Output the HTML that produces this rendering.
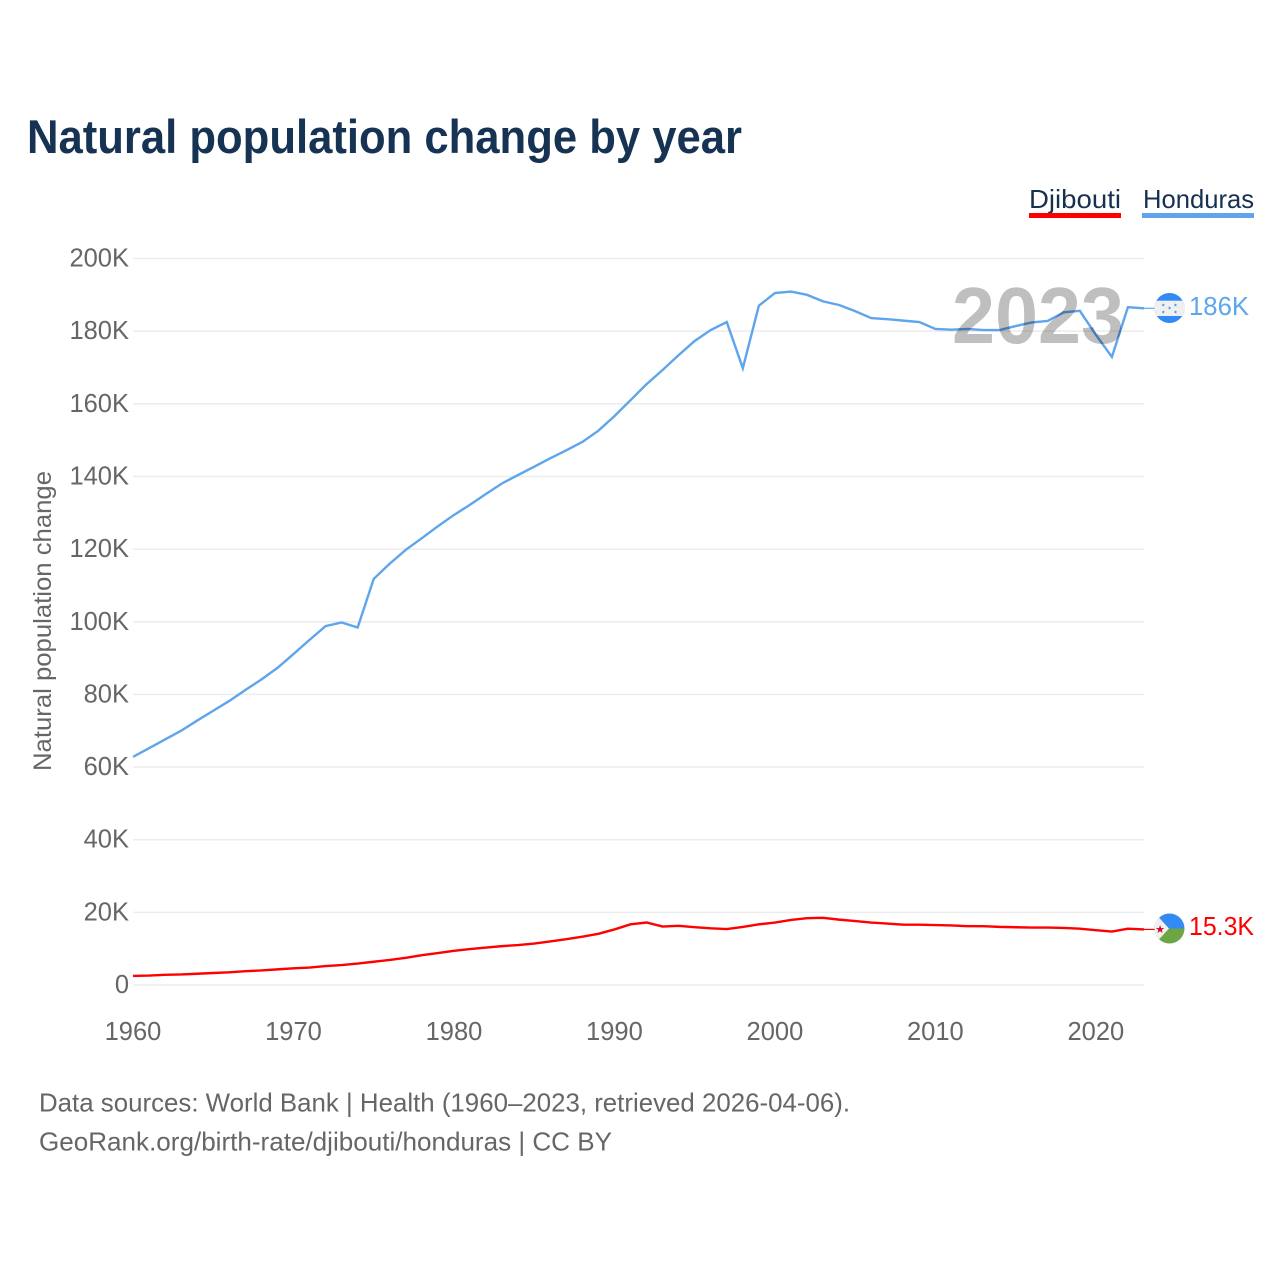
<!DOCTYPE html>
<html lang="en">
<head>
<meta charset="utf-8">
<title>Natural population change by year</title>
<style>
html,body{margin:0;padding:0;background:#fff;}
svg{display:block;font-family:"Liberation Sans",sans-serif;}
</style>
</head>
<body>
<svg id="chart" width="1280" height="1280" viewBox="0 0 1280 1280" xmlns="http://www.w3.org/2000/svg">
  <rect width="1280" height="1280" fill="#fff"/>
  <text x="27" y="153" font-size="47" font-weight="700" fill="#163354" textLength="715" lengthAdjust="spacingAndGlyphs">Natural population change by year</text>

  <g>
    <text x="1029" y="208" font-size="26" fill="#18304f" textLength="92" lengthAdjust="spacingAndGlyphs">Djibouti</text>
    <rect x="1029" y="213" width="92" height="5" fill="#ff0000"/>
  </g>
  <g>
    <text x="1143" y="208" font-size="26" fill="#18304f" textLength="111" lengthAdjust="spacingAndGlyphs">Honduras</text>
    <rect x="1142" y="213" width="112" height="5" fill="#5ea5ec"/>
  </g>

  <g id="grid"></g>
  <g id="yticks"></g>
  <g id="xticks"></g>
  <text transform="translate(51,621) rotate(-90)" text-anchor="middle" font-size="25" fill="#666" textLength="300" lengthAdjust="spacingAndGlyphs">Natural population change</text>

  <g id="series"></g>

  <text id="year-label" x="952" y="343" font-size="80" font-weight="700" fill="#000" fill-opacity="0.25" textLength="172" lengthAdjust="spacingAndGlyphs">2023</text>

  <g id="flag-hn">
    <clipPath id="clip-hn"><circle cx="1169.5" cy="308" r="15"/></clipPath>
    <g clip-path="url(#clip-hn)">
      <rect x="1154" y="293" width="31" height="31" fill="#338af3"/>
      <rect x="1154" y="300.700" width="31" height="15.300" fill="#f0f0f0"/>
      <g fill="#338af3" font-size="4.500" text-anchor="middle">
        <text x="1163.300" y="306.500">★</text><text x="1175.500" y="306.500">★</text>
        <text x="1169.500" y="309.500">★</text>
        <text x="1163.300" y="313.500">★</text><text x="1175.500" y="313.500">★</text>
      </g>
    </g>
  </g>
  <g id="flag-dj">
    <clipPath id="clip-dj"><circle cx="1169.5" cy="928.500" r="15"/></clipPath>
    <g clip-path="url(#clip-dj)">
      <rect x="1154" y="913" width="31" height="16" fill="#338af3"/>
      <rect x="1154" y="928.500" width="31" height="16" fill="#6da544"/>
      <polygon points="1152,910 1169,928.500 1152,947" fill="#f0f0f0"/>
      <text x="1160" y="933" font-size="11" text-anchor="middle" fill="#d80027">★</text>
    </g>
  </g>
  <text id="end-hn" x="1189" y="315" font-size="25.500" fill="#5ea5ec" textLength="60" lengthAdjust="spacingAndGlyphs">186K</text>
  <text id="end-dj" x="1189" y="935" font-size="25.500" fill="#ff0000" textLength="65" lengthAdjust="spacingAndGlyphs">15.3K</text>

  <g>
    <text x="39" y="1111.500" font-size="26" fill="#666" textLength="811" lengthAdjust="spacingAndGlyphs">Data sources: World Bank | Health (1960–2023, retrieved 2026-04-06).</text>
    <text x="39" y="1150.500" font-size="26" fill="#666" textLength="573" lengthAdjust="spacingAndGlyphs">GeoRank.org/birth-rate/djibouti/honduras | CC BY</text>
  </g>
</svg>
<script>
const years = [1960,1961,1962,1963,1964,1965,1966,1967,1968,1969,1970,1971,1972,1973,1974,1975,1976,1977,1978,1979,1980,1981,1982,1983,1984,1985,1986,1987,1988,1989,1990,1991,1992,1993,1994,1995,1996,1997,1998,1999,2000,2001,2002,2003,2004,2005,2006,2007,2008,2009,2010,2011,2012,2013,2014,2015,2016,2017,2018,2019,2020,2021,2022,2023];
const honduras = [62.8,65.2,67.6,70,72.8,75.5,78.2,81.2,84.1,87.3,91.1,95,98.8,99.8,98.4,111.8,116,119.8,123,126.3,129.4,132.2,135.2,138.1,140.4,142.7,145,147.2,149.5,152.6,156.6,161,165.4,169.3,173.4,177.3,180.3,182.5,169.8,187,190.5,190.9,190,188.2,187.2,185.5,183.6,183.3,182.9,182.5,180.6,180.4,180.6,180.3,180.3,181.4,182.4,182.8,185.2,185.6,179,172.9,186.6,186.3];
const djibouti = [2.5,2.6,2.8,2.9,3.1,3.3,3.5,3.8,4,4.3,4.6,4.8,5.2,5.5,5.9,6.4,6.9,7.5,8.2,8.8,9.4,9.9,10.3,10.7,11,11.4,12,12.6,13.3,14.1,15.3,16.7,17.2,16.1,16.3,15.9,15.6,15.4,16,16.7,17.2,17.9,18.4,18.5,18,17.6,17.2,16.9,16.6,16.6,16.5,16.4,16.2,16.2,16,15.9,15.8,15.8,15.7,15.5,15.1,14.7,15.5,15.3];
const yTickValues = [0,20,40,60,80,100,120,140,160,180,200];
const yTickLabels = ["0","20K","40K","60K","80K","100K","120K","140K","160K","180K","200K"];
const xTickValues = [1960,1970,1980,1990,2000,2010,2020];

const NS = 'http://www.w3.org/2000/svg';
const xScale = function (year) { return 133 + (year - 1960) * (1144 - 133) / 63; };
const yScale = function (value) { return 985 - value * (985 - 258.5) / 200; };

function make(tag, parent) {
  const el = document.createElementNS(NS, tag);
  parent.appendChild(el);
  return el;
}

const grid = document.getElementById('grid');
const yticks = document.getElementById('yticks');
const xticks = document.getElementById('xticks');
const seriesGroup = document.getElementById('series');

yTickValues.forEach(function (v, i) {
  const line = make('line', grid);
  
  
  line.setAttribute('x1', 133);
  line.setAttribute('x2', 1144);
  line.setAttribute('y1', yScale(v));
  line.setAttribute('y2', yScale(v));
  line.setAttribute('stroke', '#ececec');
  line.setAttribute('stroke-width', 1.5);
  const label = make('text', yticks);
  
  
  label.setAttribute('x', 129);
  label.setAttribute('y', yScale(v) + 8);
  label.setAttribute('text-anchor', 'end');
  label.setAttribute('font-size', 25.5);
  label.setAttribute('fill', '#666');
  label.textContent = yTickLabels[i];
});

xTickValues.forEach(function (v) {
  const label = make('text', xticks);
  
  
  label.setAttribute('x', xScale(v));
  label.setAttribute('y', 1040);
  label.setAttribute('text-anchor', 'middle');
  label.setAttribute('font-size', 25.5);
  label.setAttribute('fill', '#666');
  label.textContent = String(v);
});

function drawSeries(values, color, name) {
  const d = values.map(function (v, i) {
    return (i ? 'L' : 'M') + xScale(years[i]).toFixed(2) + ' ' + yScale(v).toFixed(2);
  }).join(' ');
  const path = make('path', seriesGroup);
  
  
  path.setAttribute('d', d);
  path.setAttribute('fill', 'none');
  path.setAttribute('stroke', color);
  path.setAttribute('stroke-width', 2.4);
  path.setAttribute('stroke-linejoin', 'miter');
  const last = values[values.length - 1];
  const conn = make('line', seriesGroup);
  
  
  conn.setAttribute('x1', xScale(years[years.length - 1]));
  conn.setAttribute('x2', 1155);
  conn.setAttribute('y1', yScale(last));
  conn.setAttribute('y2', yScale(last));
  conn.setAttribute('stroke', color);
  conn.setAttribute('stroke-width', 1.2);
}

drawSeries(djibouti, '#ff0000', 'djibouti');
drawSeries(honduras, '#5ea5ec', 'honduras');
</script>
</body>
</html>
